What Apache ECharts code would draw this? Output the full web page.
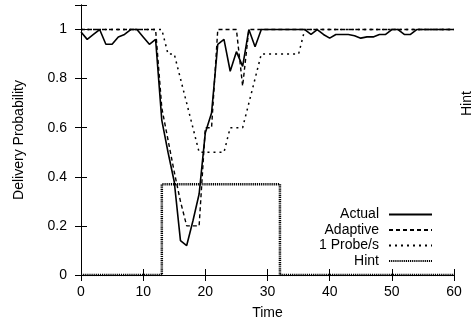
<!DOCTYPE html>
<html><head><meta charset="utf-8">
<script src="https://cdn.jsdelivr.net/npm/echarts@6/dist/echarts.min.js"></script>
<style>html,body{margin:0;padding:0;background:#fff}#c{width:473px;height:323px}</style>
</head><body><div id="c"></div>
<script>
const times = [0,1,2,3,4,5,6,7,8,9,10,11,12,13,14,15,16,17,18,19,20,21,22,23,24,25,26,27,28,29,30,31,32,33,34,35,36,37,38,39,40,41,42,43,44,45,46,47,48,49,50,51,52,53,54,55,56,57,58,59,60];
const actual = [0.99,0.96,0.98,1.0,0.94,0.94,0.97,0.98,1.0,1.0,0.97,0.94,0.96,0.63,0.5,0.38,0.14,0.12,0.22,0.33,0.58,0.66,0.94,0.96,0.83,0.91,0.85,1.0,0.93,1.0,1,1,1,1,1,1,1,0.98,1,0.98,0.965,0.98,0.98,0.98,0.975,0.965,0.97,0.97,0.98,0.98,1,1,0.98,0.98,1,1,1,1,1,1,1];
const adaptive = [1,1,1,1,1,1,1,1,1,1,1,1,1,0.68,0.55,0.42,0.3,0.2,0.2,0.2,0.6,0.6,1,1,1,1,0.77,1,1,1,1,1,1,1,1,1,1,1,1,1,1,1,1,1,1,1,1,1,1,1,1,1,1,1,1,1,1,1,1,1,1];
const probe = [1,1,1,1,1,1,1,1,1,1,1,1,1,1,0.9,0.9,0.8,0.7,0.6,0.5,0.5,0.5,0.5,0.5,0.6,0.6,0.6,0.7,0.8,0.9,0.9,0.9,0.9,0.9,0.9,0.9,1,1,1,1,1,1,1,1,1,1,1,1,1,1,1,1,1,1,1,1,1,1,1,1,1];
const hintTimes = [0,13,13,32,32,60];
const hintValues = [0,0,0.37,0.37,0,0];
const xTicks = [0,10,20,30,40,50,60];
const yTicks = [0,0.2,0.4,0.6,0.8,1];
const seriesNames = ['Actual','Adaptive','1 Probe/s','Hint'];

const FONT = 'Liberation Sans, Arial, sans-serif';
const pair = (xs, ys) => xs.map((x,i)=>[x, ys[i]]);
const chart = echarts.init(document.getElementById('c'), null, {renderer:'canvas'});
const axisLine = {show:true, lineStyle:{color:'#000', width:1}};
const legendRows = [214.5, 230, 245.5, 261];
chart.setOption({
  animation:false,
  backgroundColor:'#fff',
  textStyle:{fontFamily:FONT},
  grid:{left:81, right:19, top:5, bottom:48, containLabel:false, outerBoundsMode:'none'},
  xAxis:[{
    type:'value', min:0, max:60, interval:10, position:'bottom',
    name:'Time', nameLocation:'middle', nameGap:31,
    nameTextStyle:{color:'#000', fontSize:14, fontFamily:FONT},
    axisLine, axisTick:{show:true, inside:true, length:6, lineStyle:{color:'#000'}},
    axisLabel:{color:'#000', fontSize:14, fontFamily:FONT, margin:10},
    splitLine:{show:false}
  },{
    type:'value', min:0, max:60, interval:10, position:'top',
    axisLine, axisTick:{show:true, inside:true, length:6, lineStyle:{color:'#000'}},
    axisLabel:{show:false}, splitLine:{show:false}
  }],
  yAxis:[{
    type:'value', min:0, max:1.1, interval:0.2, position:'left',
    name:'Delivery Probability', nameLocation:'middle', nameGap:55,
    nameTextStyle:{color:'#000', fontSize:14, fontFamily:FONT},
    axisLine, axisTick:{show:true, inside:true, length:6, lineStyle:{color:'#000'}},
    axisLabel:{color:'#000', fontSize:14, fontFamily:FONT, margin:14,
      formatter:v => (v > 1.05 ? '' : String(+v.toFixed(1)))},
    splitLine:{show:false}
  },{
    type:'value', min:0, max:1.1, interval:0.2, position:'right',
    axisLine, axisTick:{show:true, inside:true, length:6, lineStyle:{color:'#000'}},
    axisLabel:{show:false}, splitLine:{show:false}
  }],
  graphic:[{
    type:'text', x:460, y:116, rotation:Math.PI/2,
    style:{text:'Hint', fill:'#000', font:'14px ' + FONT}
  }],
  legend: seriesNames.map((n,i)=>({
    data:[n], orient:'vertical', right:40, top:legendRows[i]-7,
    align:'right', itemWidth:43, itemHeight:14, padding:0,
    itemStyle:{opacity:0},
    textStyle:{color:'#000', fontSize:14, fontFamily:FONT, padding:[0,5,0,0]},
    selectedMode:false
  })),
  series:[
    {name:'Actual', type:'line', data:pair(times, actual), symbol:'none', xAxisIndex:0, yAxisIndex:0,
     lineStyle:{color:'#000', width:1.6, type:'solid'}, itemStyle:{color:'#000'}},
    {name:'Adaptive', type:'line', data:pair(times, adaptive), symbol:'none', xAxisIndex:0, yAxisIndex:0,
     lineStyle:{color:'#000', width:1.4, type:[4,3]}, itemStyle:{color:'#000'}},
    {name:'1 Probe/s', type:'line', data:pair(times, probe), symbol:'none', xAxisIndex:0, yAxisIndex:0,
     lineStyle:{color:'#000', width:1.5, type:[2,4]}, itemStyle:{color:'#000'}},
    {name:'Hint', type:'line', data:pair(hintTimes, hintValues), symbol:'none', xAxisIndex:0, yAxisIndex:1,
     lineStyle:{color:'#000', width:2.5, type:[1.2,0.9]}, itemStyle:{color:'#000'}}
  ]
});
</script></body></html>
